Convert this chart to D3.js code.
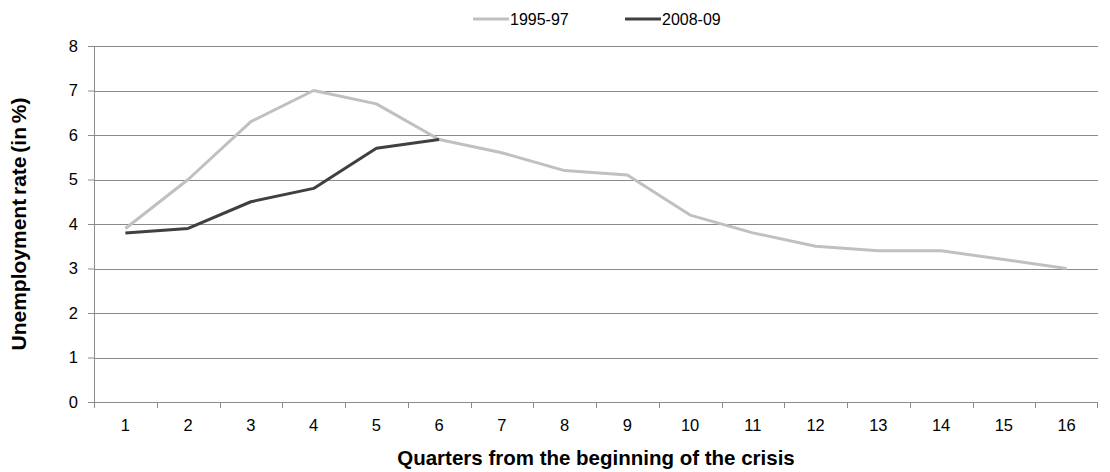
<!DOCTYPE html>
<html>
<head>
<meta charset="utf-8">
<script src="https://cdn.jsdelivr.net/npm/d3@7"></script>
<style>
  body { margin: 0; background: #fff; }
  text { font-family: "Liberation Sans", Arial, sans-serif; }
</style>
</head>
<body>
<div id="chart"></div>
<script>
// data
var quarters = ["1","2","3","4","5","6","7","8","9","10","11","12","13","14","15","16"];
var crisis9597 = [3.9, 5.0, 6.3, 7.0, 6.7, 5.9, 5.6, 5.2, 5.1, 4.2, 3.8, 3.5, 3.4, 3.4, 3.2, 3.0];
var crisis0809 = [3.8, 3.9, 4.5, 4.8, 5.7, 5.9];
var seriesNames = ["1995-97", "2008-09"];
var yTicks = [0, 1, 2, 3, 4, 5, 6, 7, 8];

var W = 1110, H = 472;
var margin = { top: 46, right: 12, bottom: 70, left: 94 };
var width = W - margin.left - margin.right;
var height = H - margin.top - margin.bottom;

var svg = d3.select("#chart").append("svg")
    .attr("width", W)
    .attr("height", H);

var g = svg.append("g")
    .attr("transform", "translate(" + margin.left + "," + margin.top + ")");

var x = d3.scaleBand().domain(quarters).range([0, width]);
var y = d3.scaleLinear().domain([0, 8]).range([height, 0]);

// gridlines
g.append("g").selectAll("line").data(yTicks).enter().append("line")
    .attr("x1", 0).attr("x2", width)
    .attr("y1", d => Math.round(y(d)) + 0.5).attr("y2", d => Math.round(y(d)) + 0.5)
    .attr("stroke", "#8a8a8a").attr("stroke-width", 1);

// y axis
var yAxis = g.append("g")
    .call(d3.axisLeft(y).tickValues(yTicks).tickSize(6).tickPadding(10));
yAxis.select(".domain").attr("stroke", "#8a8a8a");
yAxis.selectAll(".tick line").attr("stroke", "#8a8a8a");
yAxis.selectAll(".tick text").attr("font-size", 16.5).attr("fill", "#000")
    .style("font-family", "Liberation Sans, Arial, sans-serif");

// x axis: ticks at band edges
var xAxis = g.append("g").attr("transform", "translate(0," + height + ")");
xAxis.append("line").attr("x1", 0).attr("x2", width).attr("y1", 0.5).attr("y2", 0.5)
    .attr("stroke", "#8a8a8a");
xAxis.selectAll(".xt").data(quarters).enter().append("line")
    .attr("x1", d => Math.round(x(d)) + 0.5).attr("x2", d => Math.round(x(d)) + 0.5)
    .attr("y1", 0).attr("y2", 6).attr("stroke", "#8a8a8a");
xAxis.append("line")
    .attr("x1", width - 0.5).attr("x2", width - 0.5).attr("y1", 0).attr("y2", 6)
    .attr("stroke", "#8a8a8a");
xAxis.selectAll(".xl").data(quarters).enter().append("text")
    .attr("x", d => x(d) + x.bandwidth() / 2)
    .attr("y", 29)
    .attr("text-anchor", "middle")
    .attr("font-size", 16.5)
    .attr("fill", "#000")
    .text(d => d);

// lines
var line = d3.line()
    .x((d, i) => x(quarters[i]) + x.bandwidth() / 2)
    .y(d => y(d));

var colors = ["#c0c0c0", "#404040"];

g.append("path").datum(crisis9597)
    .attr("fill", "none").attr("stroke", colors[0]).attr("stroke-width", 3)
    .attr("stroke-linejoin", "round")
    .attr("d", line);
g.append("path").datum(crisis0809)
    .attr("fill", "none").attr("stroke", colors[1]).attr("stroke-width", 3)
    .attr("stroke-linejoin", "round")
    .attr("d", line);

// axis titles
svg.append("text")
    .attr("transform", "translate(26," + (margin.top + height / 2) + ") rotate(-90)")
    .attr("text-anchor", "middle")
    .attr("font-size", 21).attr("font-weight", "bold")
    .attr("word-spacing", -2)
    .text("Unemployment rate (in %)");

svg.append("text")
    .attr("x", margin.left + width / 2)
    .attr("y", 465)
    .attr("text-anchor", "middle")
    .attr("font-size", 20.5).attr("font-weight", "bold")
    .text("Quarters from the beginning of the crisis");

// legend
var legendX = [473, 625];
var leg = svg.append("g").selectAll("g").data(seriesNames).enter().append("g")
    .attr("transform", (d, i) => "translate(" + legendX[i] + ",19)");
leg.append("line").attr("x1", 0).attr("x2", 36).attr("y1", 0).attr("y2", 0)
    .attr("stroke", (d, i) => colors[i]).attr("stroke-width", 3);
leg.append("text").attr("x", 37).attr("y", 6)
    .attr("font-size", 16).attr("fill", "#000")
    .text(d => d);
</script>
</body>
</html>
